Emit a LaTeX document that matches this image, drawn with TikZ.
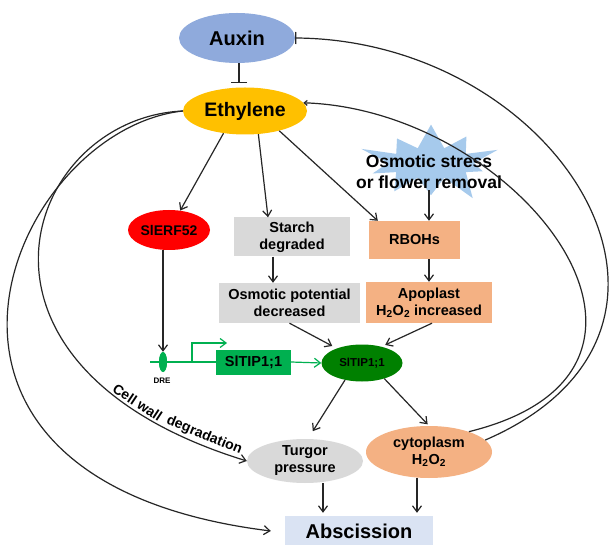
\documentclass[tikz,border=0pt]{standalone}
\usepackage{fontspec}
\setmainfont{Liberation Sans}
\usetikzlibrary{arrows.meta,shapes.geometric,shapes.symbols}
\definecolor{auxblue}{HTML}{8FAADC}
\definecolor{ethyellow}{HTML}{FFC000}
\definecolor{erfred}{HTML}{FF0000}
\definecolor{graybox}{HTML}{D9D9D9}
\definecolor{salmon}{HTML}{F4B183}
\definecolor{protgreen}{HTML}{008000}
\definecolor{genegreen}{HTML}{00B050}
\definecolor{burstblue}{HTML}{A6CAEC}
\definecolor{absblue}{HTML}{DAE3F3}
\begin{document}
\begin{tikzpicture}[x=1pt,y=-1pt,
  conn/.style={line width=1.2pt, draw=black!85},
  arr/.style={conn, -{Straight Barb[length=6pt,width=9pt]}},
  garr/.style={line width=1.2pt, draw=genegreen, -{Straight Barb[length=6pt,width=9pt]}},
  gline/.style={line width=1.2pt, draw=genegreen},
  ell/.style={ellipse, inner sep=0pt, align=center},
  boxfont/.style={font=\bfseries\fontsize{14.5}{17}\selectfont},
  rbox/.style={rectangle, inner sep=0pt, align=center, boxfont},
  cwlabel/.style={sloped, above=1.5pt, inner sep=1pt, font=\bfseries\fontsize{14}{16}\selectfont}]
\fill[white] (0,0) rectangle (613,545);
\useasboundingbox (0,0) rectangle (613,545);

% nodes
\node[ell, fill=auxblue, minimum width=116pt, minimum height=50pt, font=\bfseries\fontsize{20}{24}\selectfont] (aux) at (237,38) {Auxin};
\node[ell, fill=ethyellow, minimum width=124pt, minimum height=47pt, font=\bfseries\fontsize{19.5}{23}\selectfont] (eth) at (245,111) {Ethylene};
\node[ell, fill=erfred, minimum width=82pt, minimum height=40pt, font=\bfseries\fontsize{14}{16}\selectfont] (erf) at (169,230) {SlERF52};
\node[rbox, fill=graybox, minimum width=116pt, minimum height=39pt] (starch) at (292,237) {Starch\\degraded};
\node[rbox, fill=graybox, minimum width=141pt, minimum height=40pt] (osmpot) at (289.5,303) {Osmotic potential\\decreased};
\node[starburst, fill=burstblue, draw=none, minimum width=150pt, minimum height=95pt, starburst points=10, starburst point height=32pt] (burst) at (431,163) {};
\node[align=center, inner sep=1pt, font=\bfseries\fontsize{17.5}{21}\selectfont] (osm) at (429,172) {Osmotic stress\\or flower removal};
\node[rbox, fill=salmon, minimum width=91pt, minimum height=38pt] (rboh) at (414.5,240) {RBOHs};
\node[rbox, fill=salmon, minimum width=126pt, minimum height=41pt] (apo) at (429,302.5) {Apoplast\\H\textsubscript{2}O\textsubscript{2} increased};
\node[ell, fill=protgreen, minimum width=81pt, minimum height=37pt, font=\bfseries\fontsize{11.5}{13}\selectfont] (prot) at (362,363) {SlTIP1;1};
\node[rbox, fill=genegreen, minimum width=75pt, minimum height=25pt] (gene) at (253.5,362) {SlTIP1;1};
\node[ell, fill=genegreen, minimum width=8pt, minimum height=20pt] (dre) at (163,362) {};
\node[font=\bfseries\fontsize{8}{9}\selectfont, inner sep=0pt] (drel) at (162,381) {DRE};
\node[ell, fill=graybox, minimum width=116pt, minimum height=44pt, boxfont] (turg) at (305,461) {Turgor\\pressure};
\node[ell, fill=salmon, minimum width=126pt, minimum height=52pt, boxfont] (cyt) at (429,452) {cytoplasm\\H\textsubscript{2}O\textsubscript{2}};
\node[rectangle, inner sep=0pt, fill=absblue, minimum width=148pt, minimum height=30pt, font=\bfseries\fontsize{20}{24}\selectfont] (abs) at (359,531) {Abscission};

% gene construct
\coordinate (gl) at (150,362);
\coordinate (pr) at (192,362);
\coordinate (prtip) at (227,343);
\draw[gline] (gl) -- (gene.west);
\draw[garr] (pr) |- (prtip);
\node[ell, fill=genegreen, minimum width=8pt, minimum height=20pt] at (dre) {};
\draw[garr] (gene.east) -- (prot.west);

% inhibition auxin -> ethylene
\draw[conn, -{Bar[width=16pt]}] ([xshift=2pt]aux.south) -- ([xshift=2pt,yshift=4pt]aux.south |- eth.north);

% ethylene arrows
\draw[arr] (eth.226) -- (erf.60);
\draw[arr] (eth.300) -- ([xshift=-24pt]starch.north);
\draw[arr] (eth.330) -- ([xshift=9pt]rboh.north west);
\draw[arr] ([xshift=-19pt]starch.south) -- ([xshift=-19pt]starch.south |- osmpot.north);
\draw[arr] (osm.south) -- (osm.south |- rboh.north);
\draw[arr] (rboh.south -| osm.south) -- (apo.north -| osm.south);
\draw[arr] (erf.south -| dre) -- (dre.north);
\draw[arr, shorten >=5pt] (osmpot.south) -- (prot.150);
\draw[arr, shorten >=4pt] ([xshift=3pt]apo.south) -- (prot.40);
\draw[arr, shorten >=9pt] (prot.225) -- ([xshift=3pt]turg.north);
\draw[arr, shorten >=2pt] (prot.325) -- (cyt.north);
\draw[arr, shorten >=3pt] ([xshift=18pt]turg.south) -- ([xshift=18pt]turg.south |- abs.north);
\draw[arr, shorten >=3pt] ([xshift=-12pt]cyt.south) -- ([xshift=-12pt]cyt.south |- abs.north);

% left long curves
\draw[arr] (eth.west) .. controls (10,130) and (-140,480) .. ([xshift=-14pt]abs.west);
\draw[arr] (eth.west) .. controls (25,118) and (-65,365) .. (turg.west)
  node[cwlabel, pos=0.851] (cw1) {Cell wall}
  node[cwlabel, pos=0.947] (cw2) {degradation};

% right long curves
\draw[conn, {Bar[width=12pt]}-] (aux.east) .. controls (560,40) and (740,330) .. (cyt.12);
\draw[conn, {Straight Barb[length=3pt,width=5pt]}-] (eth.8) .. controls (520,110) and (720,370) .. (cyt.27);
\end{tikzpicture}
\end{document}
